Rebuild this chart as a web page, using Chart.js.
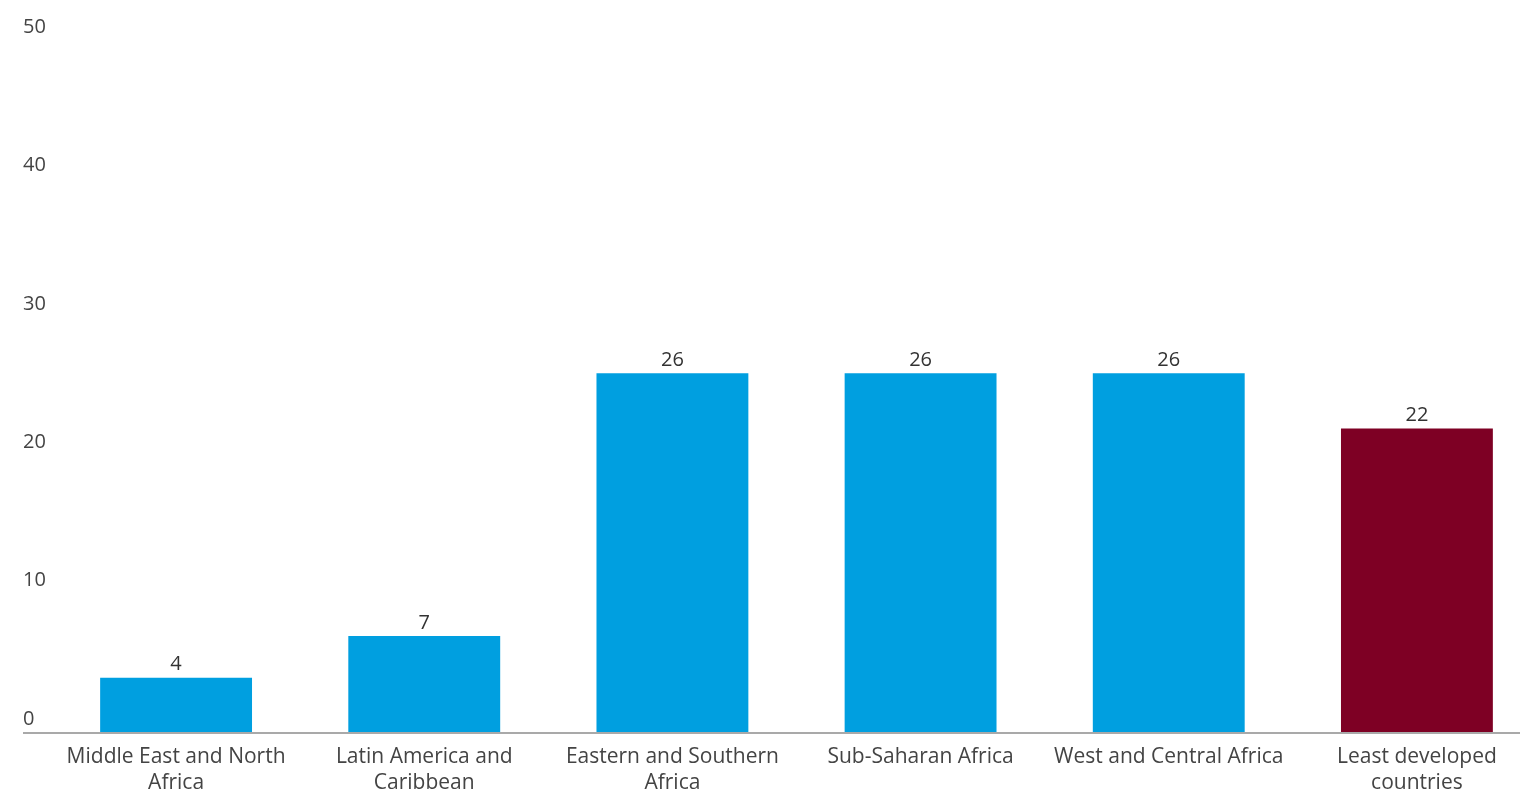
<!DOCTYPE html>
<html>
<head>
<meta charset="utf-8">
<script src="https://cdn.jsdelivr.net/npm/chart.js@4"></script>
<style>
  html, body { margin: 0; padding: 0; background: #fff; overflow: hidden; }
  #wrap { position: relative; width: 1541px; height: 793px; }
</style>
</head>
<body>
<div id="wrap"><canvas id="myChart"></canvas></div>
<script>
const regions = [
  ["Middle East and North", "Africa"],
  ["Latin America and", "Caribbean"],
  ["Eastern and Southern", "Africa"],
  "Sub-Saharan Africa",
  "West and Central Africa",
  ["Least developed", "countries"]
];
const values = [4, 7, 26, 26, 26, 22];
const barColors = ["#009fe0", "#009fe0", "#009fe0", "#009fe0", "#009fe0", "#7e0024"];
const yTicks = [0, 10, 20, 30, 40, 50];

const textColor = "#444444";
const fontFamily = "'Open Sans', Roboto, sans-serif";

// numbers above each bar
const valueLabels = {
  id: 'valueLabels',
  afterDatasetsDraw(chart) {
    const ctx = chart.ctx;
    const meta = chart.getDatasetMeta(0);
    ctx.save();
    ctx.font = "20px " + fontFamily;
    ctx.fillStyle = "#333333";
    ctx.textAlign = 'center';
    ctx.textBaseline = 'bottom';
    meta.data.forEach((bar, i) => {
      ctx.fillText(values[i], bar.x, bar.y - 3);
    });
    ctx.restore();
  }
};

const config = {
  type: 'bar',
  data: {
    labels: regions,
    datasets: [{
      data: values,
      backgroundColor: barColors,
      borderWidth: 0,
      categoryPercentage: 1,
      barPercentage: 0.612
    }]
  },
  options: {
    responsive: true,
    maintainAspectRatio: false,
    animation: false,
    layout: { padding: { left: 23, top: 41, right: 0, bottom: 0 } },
    scales: {
      x: {
        grid: { display: false, drawTicks: false },
        border: { display: false },
        ticks: {
          color: textColor,
          font: { family: fontFamily, size: 21, lineHeight: 1.25 },
          padding: 11,
          maxRotation: 0,
          autoSkip: false
        },
        afterFit: scale => { scale.height = 60; }
      },
      y: {
        min: 0,
        max: 50,
        afterBuildTicks: scale => { scale.ticks = yTicks.map(v => ({ value: v })); },
        grid: {
          // only the zero line is drawn, running under the tick labels
          color: ctx => ctx.tick && ctx.tick.value === 0 ? "#a9a9a9" : "rgba(0,0,0,0)",
          lineWidth: 2,
          drawTicks: true,
          tickLength: 29
        },
        border: { display: false },
        ticks: {
          color: textColor,
          font: { family: fontFamily, size: 20 },
          crossAlign: 'far',
          labelOffset: -14
        },
        afterFit: scale => { scale.width = 29; }
      }
    },
    plugins: {
      legend: { display: false },
      tooltip: { enabled: false }
    }
  },
  plugins: [valueLabels]
};

let myChart = new Chart(document.getElementById('myChart'), config);
</script>
</body>
</html>
